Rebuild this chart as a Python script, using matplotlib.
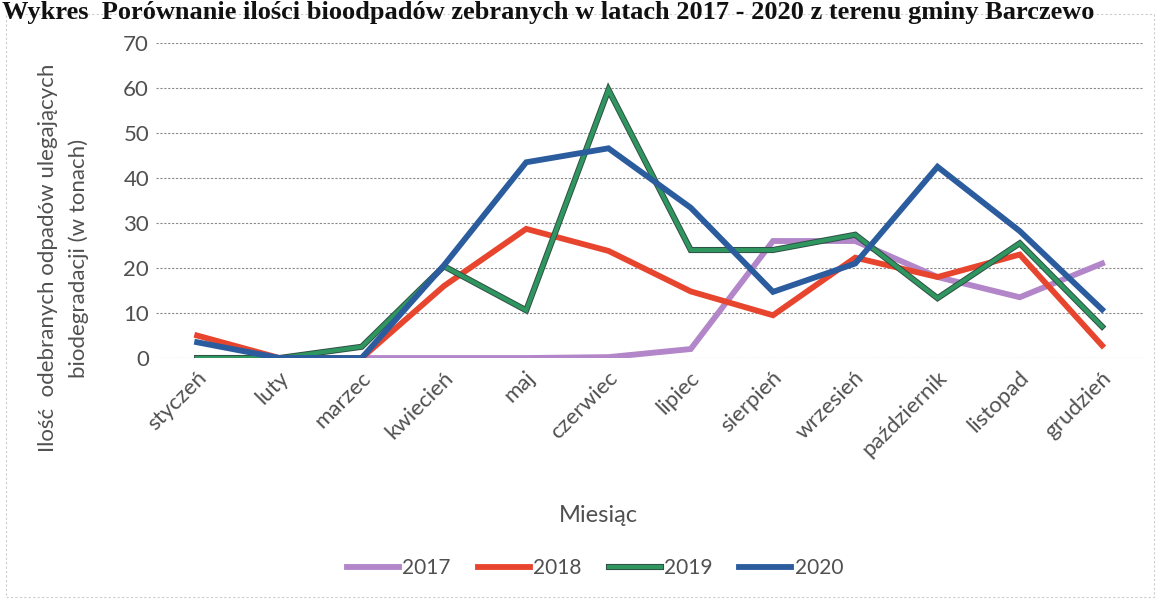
import matplotlib.pyplot as plt
import matplotlib.patheffects as pe
import matplotlib.transforms as mtrans
from matplotlib.patches import Rectangle
import numpy as np

months = ['styczeń', 'luty', 'marzec', 'kwiecień', 'maj', 'czerwiec', 'lipiec',
          'sierpień', 'wrzesień', 'październik', 'listopad', 'grudzień']

y2017 = [0, 0, 0, 0, 0, 0.2, 2, 26, 26, 18, 13.5, 21]
y2018 = [5, 0, 0, 16, 28.7, 23.8, 14.8, 9.5, 22.3, 18, 23, 2.8]
y2019 = [0, 0, 2.5, 20.4, 10.6, 59.6, 24, 24, 27.4, 13.3, 25.5, 7]
y2020 = [3.5, 0, 0, 20.6, 43.5, 46.6, 33.4, 14.7, 21, 42.5, 28.2, 10.8]

years = ['2017', '2018', '2019', '2020']
colors = ['#b286c8', '#e8452e', '#2f9660', '#2a5c9e']

plt.rcParams['font.family'] = ['Lato', 'DejaVu Sans']
txt = '#505050'

fig = plt.figure(figsize=(11.6, 6), dpi=100)
ax = fig.add_axes([0.1345, 0.4033, 0.851, 0.525])

x = np.arange(len(months))
for data, c, lab in zip([y2017, y2018, y2019, y2020], colors, years):
    if lab == '2019':
        ax.plot(x, data, color=c, lw=3.0, label=lab, solid_joinstyle='miter',
                path_effects=[pe.Stroke(linewidth=4.4, foreground='#2f4f45'), pe.Normal()])
    else:
        ax.plot(x, data, color=c, lw=4.2, label=lab, solid_joinstyle='miter')

ax.set_xlim(-0.5, 11.5)
ax.set_ylim(0, 70)
ax.set_yticks(range(0, 71, 10))
ax.yaxis.grid(True, color='#8a8a8a', lw=0.8, ls=(0, (2, 1.5)))
ax.set_axisbelow(True)
for s in ax.spines.values():
    s.set_visible(False)
ax.tick_params(length=0, labelsize=16, colors=txt)
ax.tick_params(axis='y', pad=5)
ax.set_xticks(x)
ax.set_xticklabels(months, rotation=45, ha='right', va='center',
                   rotation_mode='anchor', fontsize=16, color=txt)
ax.tick_params(axis='x', pad=12)
shift = mtrans.ScaledTranslation(6 / 100, 0, fig.dpi_scale_trans)
for lbl in ax.get_xticklabels():
    lbl.set_transform(lbl.get_transform() + shift)

ax.set_ylabel('Ilość  odebranych odpadów ulegających\nbiodegradacji (w tonach)',
              fontsize=16, color=txt, linespacing=1.65)
ax.yaxis.set_label_coords(-0.068, 0.317)
ax.set_xlabel('Miesiąc', fontsize=17, color=txt)
ax.xaxis.set_label_coords(0.448, -0.467)

leg = fig.legend(loc='center', bbox_to_anchor=(0.513, 0.053), ncol=4, frameon=False,
                 fontsize=15, handlelength=2.5, handletextpad=0.15, columnspacing=1.3,
                 labelcolor=txt)

# chart-area border and scanned title at the top
fig.add_artist(Rectangle((0.005, 0.005), 0.99, 0.972, transform=fig.transFigure,
                         fill=False, ec='#cccccc', lw=0.8, ls=(0, (2, 2))))
fig.text(0.002, 0.998, 'Wykres  Porównanie ilości bioodpadów zebranych w latach 2017 - 2020 z terenu gminy Barczewo',
         family='Liberation Serif', fontweight='bold', fontsize=19, color='#111111',
         ha='left', va='top')

fig.savefig('out.png', dpi=100, facecolor='white')
